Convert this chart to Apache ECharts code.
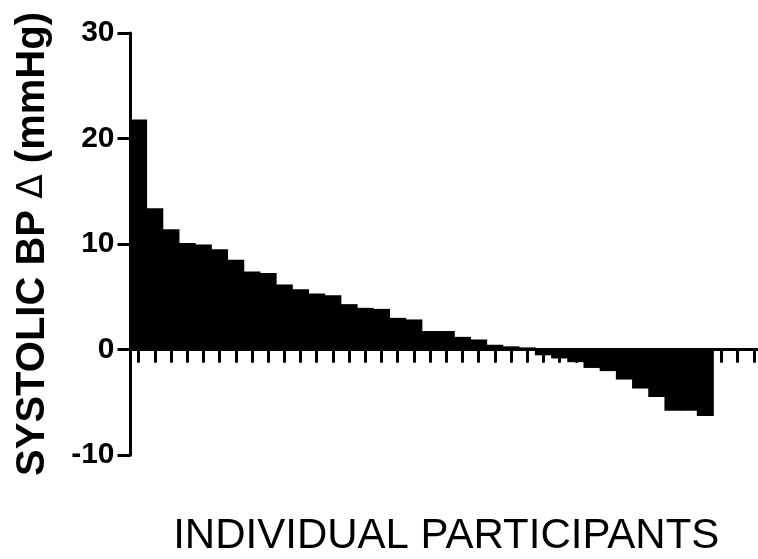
<!DOCTYPE html>
<html>
<head>
<meta charset="utf-8">
<script src="https://cdn.jsdelivr.net/npm/echarts@6/dist/echarts.min.js"></script>
<style>
html,body{margin:0;padding:0;background:#fff;}
#chart{width:758px;height:559px;}
</style>
</head>
<body>
<div id="chart"></div>
<script>
// Participants (categories); last three have no bar
const participants = [];
for (let i = 1; i <= 39; i++) participants.push('P' + i);

// Systolic BP change (mmHg) per participant, sorted
const bpChange = [
  21.8, 13.4, 11.4, 10.1, 9.95, 9.5, 8.5, 7.4, 7.25, 6.15,
  5.7, 5.3, 5.15, 4.3, 3.95, 3.85, 3.0, 2.85, 1.75, 1.75,
  1.2, 0.95, 0.45, 0.3, 0.2, -0.55, -0.85, -1.2, -1.75, -2.05,
  -2.85, -3.7, -4.5, -5.8, -5.8, -6.3,
  null, null, null
];

// Y axis ticks
const yTicks = [-10, 0, 10, 20, 30];

const chart = echarts.init(document.getElementById('chart'));
chart.setOption({
  animation: false,
  backgroundColor: '#ffffff',
  grid: { left: 130.5, right: -4, top: 33, bottom: 104, containLabel: false, outerBoundsMode: 'none' },
  xAxis: {
    type: 'category',
    data: participants,
    name: 'INDIVIDUAL PARTICIPANTS',
    nameLocation: 'middle',
    nameGap: 60,
    nameTextStyle: { fontFamily: 'Liberation Sans', fontSize: 42, color: '#000' },
    axisLine: { onZero: true, lineStyle: { color: '#000', width: 3 } },
    axisTick: { show: true, interval: 0, alignWithLabel: true, length: 12, lineStyle: { color: '#000', width: 3, cap: 'round' } },
    axisLabel: { show: false, interval: 0 },
    splitLine: { show: false }
  },
  yAxis: {
    type: 'value',
    min: yTicks[0],
    max: yTicks[yTicks.length - 1],
    interval: 10,
    name: 'SYSTOLIC BP {d|Δ} (mmHg)',
    nameLocation: 'middle',
    nameRotate: 90,
    nameGap: 78,
    nameTextStyle: {
      fontFamily: 'Liberation Sans', fontSize: 40, fontWeight: 'bold', color: '#000',
      rich: { d: { fontFamily: 'DejaVu Sans', fontSize: 36, fontWeight: 'normal', color: '#000' } }
    },
    axisLine: { show: true, lineStyle: { color: '#000', width: 3 } },
    axisTick: { show: true, length: 13, lineStyle: { color: '#000', width: 3 } },
    axisLabel: { fontFamily: 'Liberation Sans', fontSize: 30, fontWeight: 'bold', color: '#000', margin: 16 },
    splitLine: { show: false }
  },
  series: [{
    type: 'bar',
    data: bpChange,
    barWidth: 17,
    barGap: '-100%',
    itemStyle: { color: '#000' }
  }]
});
</script>
</body>
</html>
